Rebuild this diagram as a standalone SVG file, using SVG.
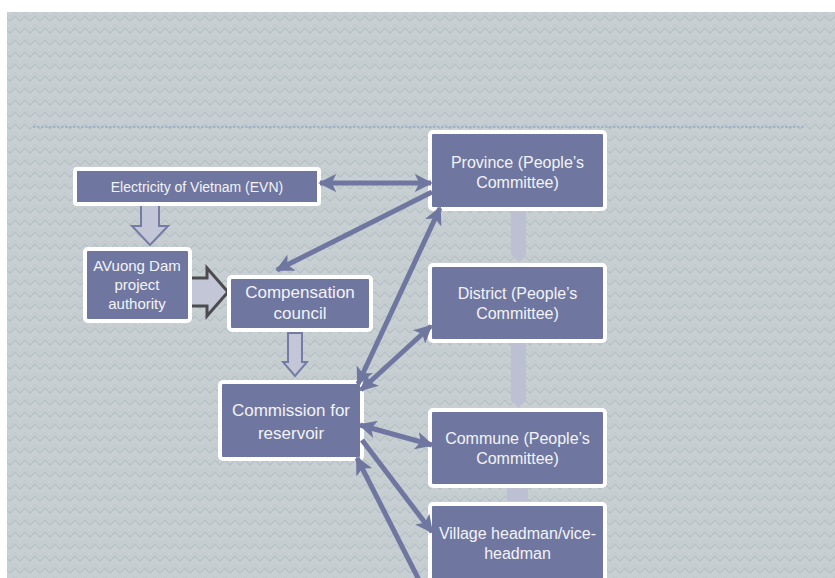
<svg xmlns="http://www.w3.org/2000/svg" width="835" height="578" viewBox="0 0 835 578">
<style>
.box{fill:#6f77a0;stroke:#ffffff;stroke-width:4}
.t{font-family:"Liberation Sans",Arial,sans-serif;fill:#f3f3f7;text-anchor:middle}
.ln{fill:none;stroke:#6f77a0;stroke-width:5}
.blk{fill:#c3c6d7;stroke:#757ca4;stroke-width:2}
.bar{fill:#bcc0d2}
</style>
<defs>
<pattern id="zz" width="10" height="12" patternUnits="userSpaceOnUse">
<rect width="10" height="12" fill="#c7cfd2"/>
<path d="M0,9 L5,4 L10,9" fill="none" stroke="#b6bfc3" stroke-width="1.1"/>
<path d="M0,5 L5,0 L10,5" fill="none" stroke="#bfc7ca" stroke-width="0.8"/>
</pattern>
<marker id="ah" viewBox="0 0 10 10" refX="9" refY="5" markerWidth="18" markerHeight="18" markerUnits="userSpaceOnUse" orient="auto-start-reverse">
<path d="M0,0 L10,5 L0,10 L2.5,5 Z" fill="#6f77a0"/>
</marker>
</defs>
<rect x="0" y="0" width="835" height="578" fill="#ffffff"/>
<rect x="7" y="12" width="828" height="566" fill="url(#zz)"/>
<line x1="33" y1="127" x2="805" y2="127" stroke="#9db4cf" stroke-width="2" stroke-dasharray="2.5 1.5"/>

<g id="connectors-back">
<path class="bar" d="M511,209 H526 V254 L518.5,262 L511,254 Z"/>
<path class="bar" d="M511,341 H526 V400 L518.5,408 L511,400 Z"/>
<rect class="bar" x="507" y="487" width="21" height="14"/>
<path class="blk" d="M141,204 L159,204 L159,226 L168,226 L150,245 L132,226 L141,226 Z"/>
<path class="blk" d="M185,278 L207,278 L207,268 L228,292 L207,316 L207,306 L185,306 Z" style="stroke:#4c4c4e;stroke-width:3"/>
<path class="blk" d="M288,333 L302,333 L302,362 L307,362 L295,376 L283,362 L288,362 Z"/>
</g>

<g id="evn">
<rect class="box" x="75" y="169" width="244" height="35" rx="2"/>
<text class="t" x="197" y="192" font-size="14">Electricity of Vietnam (EVN)</text>
</g>
<g id="avuong">
<rect class="box" x="85" y="249" width="105" height="72" rx="3"/>
<text class="t" x="137" y="271" font-size="15">AVuong Dam</text>
<text class="t" x="137" y="290" font-size="15">project</text>
<text class="t" x="137" y="309" font-size="15">authority</text>
</g>
<g id="compensation">
<rect class="box" x="229" y="277" width="142" height="53" rx="3"/>
<text class="t" x="300" y="298" font-size="17">Compensation</text>
<text class="t" x="300" y="319" font-size="17">council</text>
</g>
<g id="commission">
<rect class="box" x="220" y="382" width="142" height="77" rx="3"/>
<text class="t" x="291" y="416" font-size="17">Commission for</text>
<text class="t" x="291" y="439" font-size="17">reservoir</text>
</g>
<g id="province">
<rect class="box" x="430" y="132" width="175" height="77" rx="3"/>
<text class="t" x="517.5" y="168" font-size="16">Province (People’s</text>
<text class="t" x="517.5" y="188" font-size="16">Committee)</text>
</g>
<g id="district">
<rect class="box" x="430" y="265" width="175" height="76" rx="3"/>
<text class="t" x="517.5" y="299" font-size="16">District (People’s</text>
<text class="t" x="517.5" y="319" font-size="16">Committee)</text>
</g>
<g id="commune">
<rect class="box" x="430" y="410" width="175" height="76" rx="3"/>
<text class="t" x="517.5" y="444" font-size="16">Commune (People’s</text>
<text class="t" x="517.5" y="464" font-size="16">Committee)</text>
</g>
<g id="village">
<rect class="box" x="430" y="504" width="175" height="90" rx="3"/>
<text class="t" x="517.5" y="539" font-size="16">Village headman/vice-</text>
<text class="t" x="517.5" y="559" font-size="16">headman</text>
</g>

<g id="connectors">
<line class="ln" x1="320" y1="183" x2="431" y2="183" marker-start="url(#ah)" marker-end="url(#ah)"/>
<line class="ln" x1="432" y1="192" x2="277" y2="270" marker-end="url(#ah)"/>
<line class="ln" x1="440" y1="208" x2="358" y2="384" marker-start="url(#ah)" marker-end="url(#ah)"/>
<line class="ln" x1="431" y1="326" x2="361" y2="390" marker-start="url(#ah)" marker-end="url(#ah)"/>
<line class="ln" x1="360" y1="425" x2="432" y2="445" marker-start="url(#ah)" marker-end="url(#ah)"/>
<line class="ln" x1="362" y1="440" x2="432" y2="532" marker-end="url(#ah)"/>
<line class="ln" x1="420" y1="582" x2="357" y2="458" marker-end="url(#ah)"/>
</g>
</svg>
